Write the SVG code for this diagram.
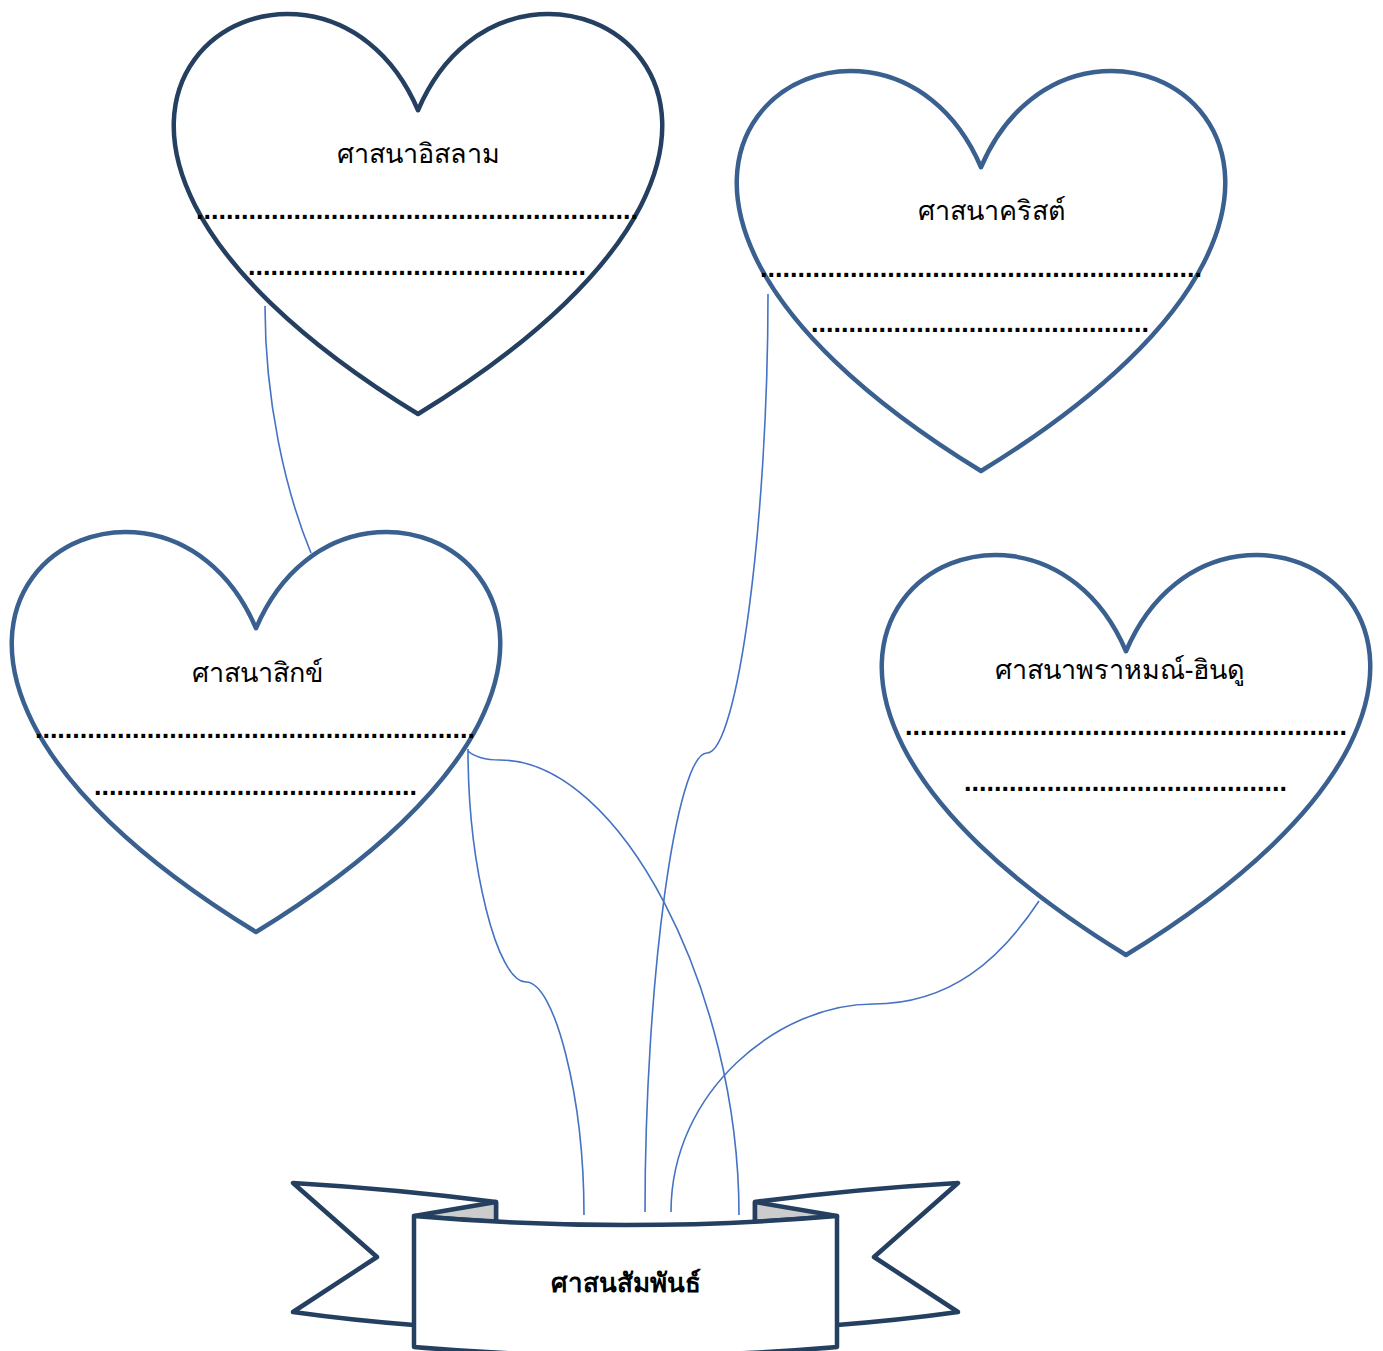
<svg xmlns="http://www.w3.org/2000/svg" xmlns:xlink="http://www.w3.org/1999/xlink" width="1383" height="1351" viewBox="0 0 1383 1351">
<defs>
<style>
.h{fill:#ffffff;stroke:#3a6090;stroke-width:4.5;stroke-linejoin:round}
.hd{stroke:#243f60}
.rb{fill:#ffffff;stroke:#243f60;stroke-width:4.5;stroke-linejoin:round}
.fold{fill:#cccccc;stroke:#243f60;stroke-width:4.5;stroke-linejoin:round}
.c{fill:none;stroke:#4472c4;stroke-width:1.6}
.t{font-family:"Noto Sans","DejaVu Sans",sans-serif;font-size:27px;fill:#000000;text-anchor:middle}
.tb{font-weight:bold;font-size:26px}
.d{font-family:"Liberation Sans",Arial,sans-serif;font-size:27px;font-weight:bold;fill:#000000}
</style>
<path id="heart" d="M0,101.25 C101.04,-135 495.1,101.25 0,405 C-495.1,101.25 -101.04,-135 0,101.25 Z"/>
</defs>
<rect width="1383" height="1351" fill="#ffffff"/>
<g id="connectors">
<path class="c" d="M265,306 C265,400 285,490 311,553"/>
<path class="c" d="M768,294 C768,523.5 737.5,753 707,753 C676,753 645,982.5 645,1212"/>
<path class="c" d="M468,749 C468,865.5 497,982 526,982 C555,982 584,1098.5 584,1215"/>
<path class="c" d="M468,751 Q478,760 500,760 C620,760 739,990 739,1215"/>
<path class="c" d="M1039,901 C1000,960 950,1004 873,1004 C780,1004 671,1090 671,1212"/>
</g>
<g id="heart-islam">
<use xlink:href="#heart" href="#heart" x="418" y="9" class="h hd"/>
<text class="t" x="418" y="163">ศาสนาอิสลาม</text>
<text class="d" x="196" y="219" textLength="442" lengthAdjust="spacing">...........................................................</text>
<text class="d" x="248" y="275" textLength="338" lengthAdjust="spacing">.............................................</text>
</g>
<g id="heart-christ">
<use xlink:href="#heart" href="#heart" x="981" y="66" class="h"/>
<text class="t" x="992" y="220">ศาสนาคริสต์</text>
<text class="d" x="760" y="277" textLength="442" lengthAdjust="spacing">...........................................................</text>
<text class="d" x="811" y="332" textLength="338" lengthAdjust="spacing">.............................................</text>
</g>
<g id="heart-sikh">
<use xlink:href="#heart" href="#heart" x="256" y="527" class="h"/>
<text class="t" x="257" y="682">ศาสนาสิกข์</text>
<text class="d" x="35" y="738" textLength="440" lengthAdjust="spacing">...........................................................</text>
<text class="d" x="94" y="795" textLength="323" lengthAdjust="spacing">...........................................</text>
</g>
<g id="heart-hindu">
<use xlink:href="#heart" href="#heart" x="1126" y="550" class="h"/>
<text class="t" x="1120" y="679">ศาสนาพราหมณ์-ฮินดู</text>
<text class="d" x="905" y="735" textLength="442" lengthAdjust="spacing">...........................................................</text>
<text class="d" x="964" y="791" textLength="323" lengthAdjust="spacing">...........................................</text>
</g>
<g id="ribbon">
<path class="rb" d="M293,1183 Q395,1189 496,1202 L496,1300 L414,1325 Q350,1320 293,1312 L377,1257 Z"/>
<path class="rb" d="M958,1183 Q856,1189 755,1202 L755,1300 L837,1325 Q901,1320 958,1312 L874,1257 Z"/>
<path class="fold" d="M414,1216 L496,1202 L496,1222 Z"/>
<path class="fold" d="M837,1216 L755,1202 L755,1222 Z"/>
<path class="rb" d="M414,1216 Q625.5,1234 837,1216 L837,1347 Q625.5,1365 414,1347 Z"/>
<text class="t tb" x="625.5" y="1292">ศาสนสัมพันธ์</text>
</g>
</svg>
